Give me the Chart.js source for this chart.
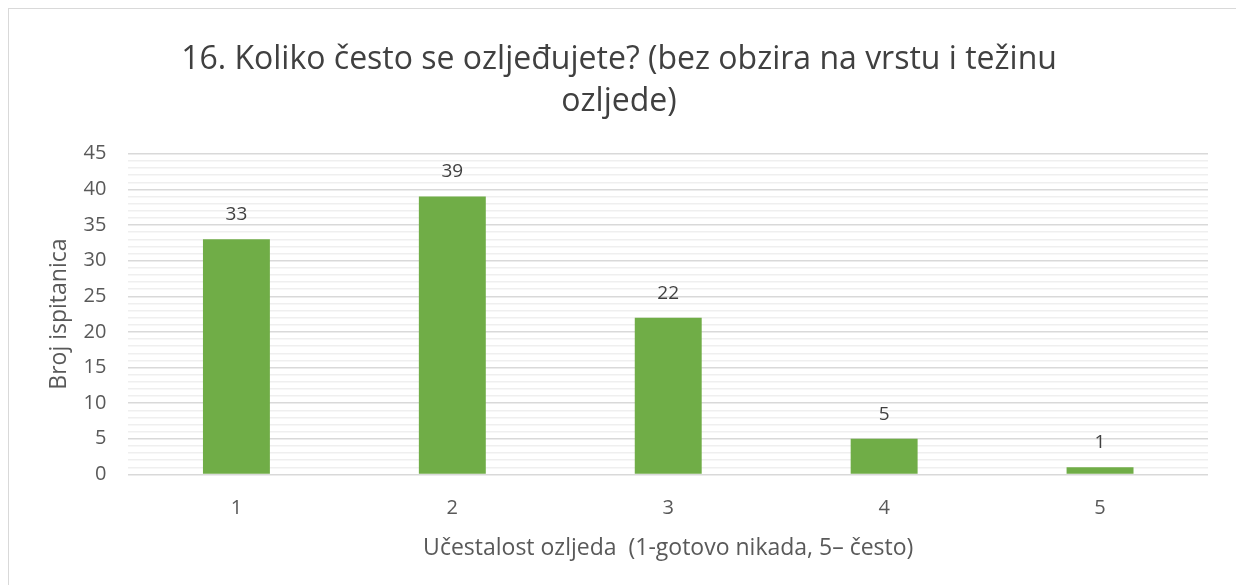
<!DOCTYPE html>
<html>
<head>
<meta charset="utf-8">
<script src="https://cdn.jsdelivr.net/npm/chart.js@4"></script>
<style>
  html, body { margin: 0; padding: 0; background: #fff; overflow: hidden; }
  .frame { position: absolute; left: 8px; top: 8px; width: 1240px; height: 590px; border: 1px solid #d9d9d9; box-sizing: border-box; }
  #c { position: absolute; left: 0; top: 0; }
</style>
</head>
<body>
<div class="frame"></div>
<canvas id="c" width="1236" height="585"></canvas>
<script>
// chart data
const categories = ['1', '2', '3', '4', '5'];
const counts = [33, 39, 22, 5, 1];
const yMax = 45;

const titleLines = ['16. Koliko često se ozljeđujete? (bez obzira na vrstu i težinu', 'ozljede)'];
const xTitle = 'Učestalost ozljeda  (1-gotovo nikada, 5– često)';
const yTitle = 'Broj ispitanica';

const font = "'Open Sans', 'Noto Sans', sans-serif";
const textColor = '#595959';

// draws the numbers above the bars
const valueLabels = {
  id: 'valueLabels',
  afterDatasetsDraw(chart) {
    const ctx = chart.ctx;
    const meta = chart.getDatasetMeta(0);
    ctx.save();
    ctx.font = '19px ' + font;
    ctx.fillStyle = '#404040';
    ctx.textAlign = 'center';
    ctx.textBaseline = 'bottom';
    meta.data.forEach((bar, i) => {
      ctx.fillText(String(counts[i]), bar.x, bar.y - 15);
    });
    ctx.restore();
  }
};

new Chart(document.getElementById('c'), {
  type: 'bar',
  data: {
    labels: categories,
    datasets: [{
      data: counts,
      backgroundColor: '#70ad47',
      borderWidth: 0,
      barPercentage: 0.62,
      categoryPercentage: 0.5
    }]
  },
  options: {
    responsive: false,
    animation: false,
    layout: { padding: { left: 30, right: 28, top: 4, bottom: 19 } },
    plugins: {
      legend: { display: false },
      tooltip: { enabled: false },
      title: {
        display: true,
        text: titleLines,
        color: '#404040',
        font: { family: font, size: 32, weight: 'normal', lineHeight: 1.34 },
        padding: { top: 34, bottom: 30 }
      }
    },
    scales: {
      x: {
        grid: { display: false },
        border: { display: false },
        ticks: { color: textColor, font: { family: font, size: 20 }, padding: 14 },
        title: { display: true, text: xTitle, color: textColor, font: { family: font, size: 23 }, padding: { top: 0 } }
      },
      y: {
        min: 0,
        max: yMax,
        border: { display: false },
        grid: {
          drawTicks: false,
          lineWidth: 1.5,
          color: (ctx) => (ctx.tick && ctx.tick.value % 5 === 0) ? '#d9d9d9' : '#efefef'
        },
        ticks: {
          stepSize: 1,
          autoSkip: false,
          color: textColor,
          font: { family: font, size: 20 },
          padding: 22,
          callback: (v) => (v % 5 === 0 ? v : '')
        },
        title: { display: true, text: yTitle, color: textColor, font: { family: font, size: 23 }, padding: { top: 16, bottom: -12 } }
      }
    }
  },
  plugins: [valueLabels]
});
</script>
</body>
</html>
